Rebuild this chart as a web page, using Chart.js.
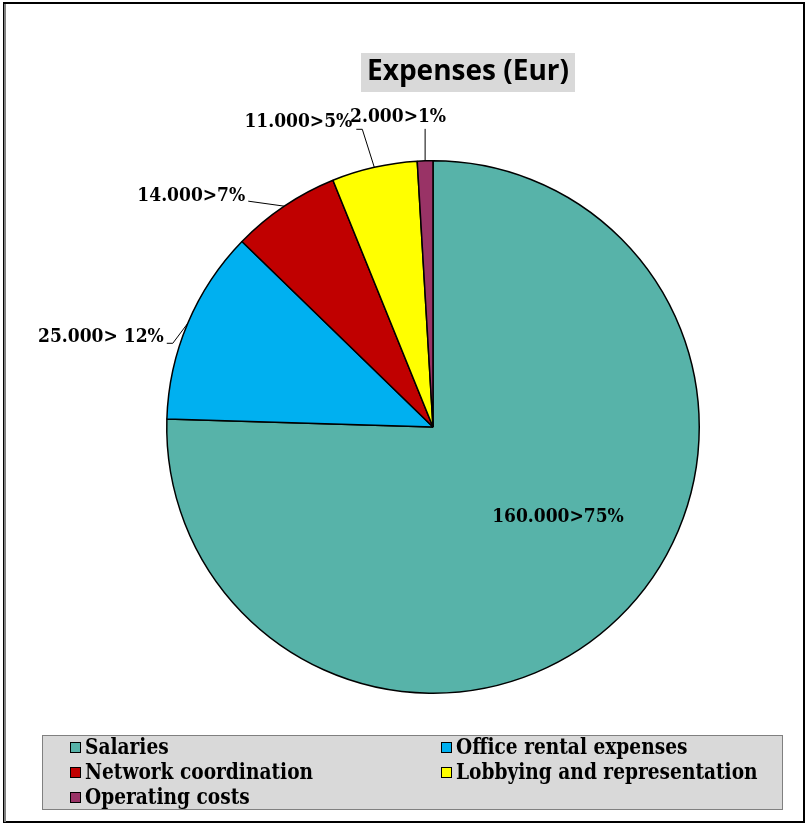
<!DOCTYPE html>
<html>
<head>
<meta charset="utf-8">
<script src="https://cdn.jsdelivr.net/npm/chart.js@4.4.1/dist/chart.umd.min.js"></script>
<style>
  html, body { margin: 0; padding: 0; background: #fff; }
  #wrap { width: 807px; height: 824px; }
</style>
</head>
<body>
<div id="wrap"><canvas id="myChart" width="807" height="824"></canvas></div>
<script>
// data
const categories = ['Salaries', 'Office rental expenses', 'Network coordination', 'Lobbying and representation', 'Operating costs'];
const expenses = [160000, 25000, 14000, 11000, 2000];
const valueLabels = ['160.000>75%', '25.000> 12%', '14.000>7%', '11.000>5%', '2.000>1%'];
const colors = ['#57B3A9', '#00B0F0', '#C00000', '#FFFF00', '#993366'];

// label placement, relative to the slice's outer edge at mid angle
// inside: text offset from pie centre; outside: leader points + text spot
const labelPlace = [
    { inside: true, dx: 125, dy: 90 },
    { pts: [[-15, 20], [-21, 20]], tx: -24, ty: 14, align: 'right' },
    { pts: [[-36, -5]], tx: -39, ty: -10, align: 'right' },
    { pts: [[-12, -38], [-18, -38]], tx: -22, ty: -45, align: 'right' },
    { pts: [[0, -32]], tx: -27, ty: -44, align: 'center' }
];

// draw text squeezed horizontally by sx
function narrowText(c, txt, x, y, align, sx) {
    const w = c.measureText(txt).width * sx;
    let left = x;
    if (align === 'center') left = x - w / 2;
    else if (align === 'right') left = x - w;
    c.save();
    c.translate(left, y);
    c.scale(sx, 1);
    c.textAlign = 'left';
    c.fillText(txt, 0, 0);
    c.restore();
}

const decor = {
    id: 'decor',
    beforeDraw(chart) {
        const c = chart.ctx;
        c.save();
        c.fillStyle = '#fff';
        c.fillRect(0, 0, chart.width, chart.height);
        // outer frame
        c.strokeStyle = '#000';
        c.lineWidth = 2;
        c.strokeRect(4, 3, 800, 819);
        c.strokeStyle = '#808080';
        c.lineWidth = 2;
        c.beginPath(); c.moveTo(5, 4); c.lineTo(5, 822); c.stroke();

        // title
        c.fillStyle = '#D9D9D9';
        c.fillRect(361, 53, 214, 39);
        c.fillStyle = '#000';
        c.font = 'bold 28px "Open Sans", sans-serif';
        c.textBaseline = 'alphabetic';
        narrowText(c, 'Expenses (Eur)', 468, 80, 'center', 1);

        // legend box
        c.fillStyle = '#D9D9D9';
        c.fillRect(42, 735, 740, 74);
        c.strokeStyle = '#808080';
        c.lineWidth = 1;
        c.strokeRect(42.5, 735.5, 740, 74);
        c.restore();
    },
    afterDraw(chart) {
        const c = chart.ctx;
        const meta = chart.getDatasetMeta(0);
        c.save();
        c.font = 'bold 19px "DejaVu Serif", serif';
        c.fillStyle = '#000';
        c.textBaseline = 'middle';
        meta.data.forEach((arc, i) => {
            const p = labelPlace[i];
            const mid = (arc.startAngle + arc.endAngle) / 2;
            if (p.inside) {
                narrowText(c, valueLabels[i], arc.x + p.dx, arc.y + p.dy, 'center', 0.9);
                return;
            }
            const ex = arc.x + Math.cos(mid) * arc.outerRadius;
            const ey = arc.y + Math.sin(mid) * arc.outerRadius;
            c.strokeStyle = '#000';
            c.lineWidth = 1;
            c.beginPath();
            c.moveTo(ex, ey);
            p.pts.forEach(q => c.lineTo(ex + q[0], ey + q[1]));
            c.stroke();
            narrowText(c, valueLabels[i], ex + p.tx, ey + p.ty, p.align, 0.9);
        });

        // legend entries, two columns
        c.font = 'bold 22px "DejaVu Serif", serif';
        const colX = [70, 441];
        const rowY = [748, 773, 798];
        categories.forEach((name, i) => {
            const x = colX[i % 2];
            const y = rowY[Math.floor(i / 2)];
            c.fillStyle = colors[i];
            c.fillRect(x, y - 6, 11, 11);
            c.strokeStyle = '#000';
            c.lineWidth = 1;
            c.strokeRect(x + 0.5, y - 5.5, 10, 10);
            c.fillStyle = '#000';
            narrowText(c, name, x + 15, y, 'left', 0.845);
        });
        c.restore();
    }
};

new Chart(document.getElementById('myChart'), {
    type: 'pie',
    data: {
        labels: categories,
        datasets: [{
            data: expenses,
            backgroundColor: colors,
            borderColor: '#000',
            borderWidth: 1.5
        }]
    },
    options: {
        responsive: false,
        animation: false,
        layout: { padding: { left: 166, right: 107, top: 160, bottom: 130 } },
        plugins: {
            legend: { display: false },
            title: { display: false },
            tooltip: { enabled: false }
        }
    },
    plugins: [decor]
});
</script>
</body>
</html>
